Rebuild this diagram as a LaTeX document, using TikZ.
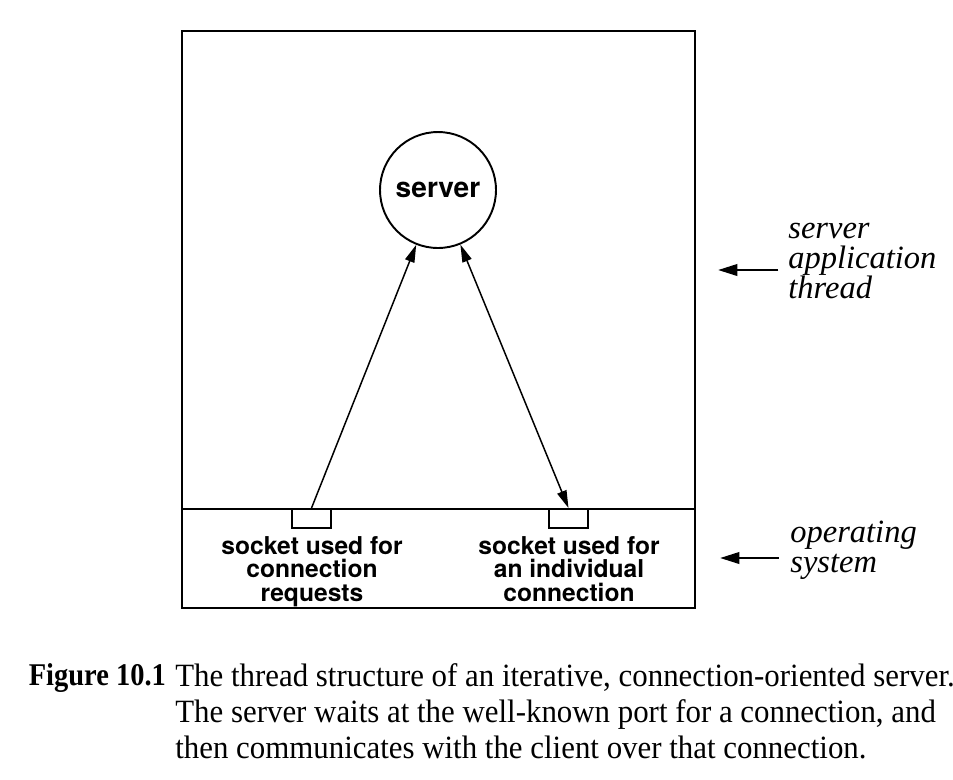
\documentclass[tikz,border=0pt]{standalone}
\usepackage{fontspec}
\setmainfont{Liberation Serif}
\newfontfamily\capfont[FakeStretch=0.95]{Liberation Serif}
\newfontfamily\figfont[FakeStretch=0.9]{Liberation Serif}
\newfontfamily\helv{TeX Gyre Heros}
\usetikzlibrary{arrows.meta}

\begin{document}
\begin{tikzpicture}[x=0.02cm, y=-0.02cm,
    lbl/.style={font=\helv\bfseries\fontsize{14}{13.4}\selectfont, align=center, inner sep=0pt, anchor=north},
    side/.style={font=\itshape\fontsize{18.5}{17}\selectfont, align=left, anchor=west, inner sep=0pt},
    tip/.style={-{Triangle[length=10pt,width=5.5pt]}, line width=0.85pt},
    bigtip/.style={-{Triangle[length=11pt,width=6.5pt]}, line width=1.4pt},
    sock/.style={draw, line width=1.1pt, minimum width=0.78cm, minimum height=0.38cm, inner sep=0pt}]
    \useasboundingbox (0,0) rectangle (953,779);

    % Outer box and the line between thread and operating system
    \def\l{182} \def\r{695} \def\t{31} \def\m{509} \def\b{608}
    \draw[line width=1.3pt] (\l,\t) rectangle (\r,\b);
    \draw[line width=1.3pt] (\l,\m) -- (\r,\m);

    % Server and the two sockets
    \node[draw, circle, line width=1.1pt, minimum size=2.32cm, inner sep=0pt,
          font=\helv\bfseries\fontsize{16}{16}\selectfont] (server) at (438,190) {server};
    \node[sock] (reqsock) at (311.5,518.5) {};
    \node[sock] (connsock) at (568.5,518.5) {};

    % Arrows between sockets and server
    \draw[tip] (reqsock.north) -- (server);
    \draw[tip, {Triangle[length=10pt,width=5.5pt]}-{Triangle[length=10pt,width=5.5pt]}] (server) -- (connsock.north);

    % Socket labels
    \node[lbl] (reqlbl) at (312,536) {socket used for\\connection\\requests};
    \node[lbl] (connlbl) at (569,536) {socket used for\\an individual\\connection};

    % Labels on the right
    \node[side] (apptxt) at (788,261) {server\\application\\thread};
    \node[side] (ostxt) at (790,550) {operating\\system};
    \coordinate (apparr) at (718,270);
    \coordinate (osarr) at (720,558);
    \draw[bigtip] ([xshift=-5.5pt]apptxt.west |- apparr) -- (apparr);
    \draw[bigtip] ([xshift=-6.5pt]ostxt.west |- osarr) -- (osarr);

    % Caption
    \node[anchor=north west, align=left, inner sep=0pt,
          font=\capfont\fontsize{18.5}{20.5}\selectfont] (cap) at (175,663)
      {The thread structure of an iterative, connection-oriented server.\\
       The server waits at the well-known port for a connection, and\\
       then communicates with the client over that connection.};
    \node[anchor=north east, inner sep=0pt, xshift=-5pt,
          font=\figfont\bfseries\fontsize{18}{20.5}\selectfont] (fig) at (cap.north west) {Figure 10.1};
\end{tikzpicture}
\end{document}
